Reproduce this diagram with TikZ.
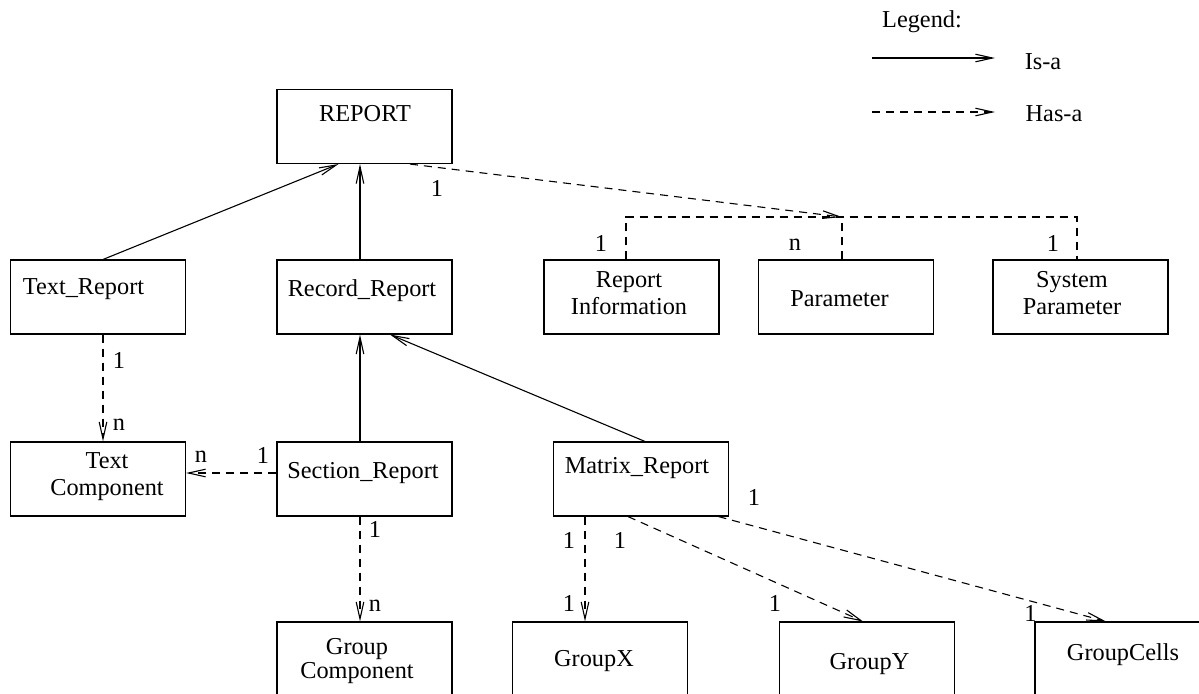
\documentclass[tikz,border=0pt]{standalone}
\usepackage{fontspec}
\setmainfont{Liberation Serif}
\usetikzlibrary{arrows.meta,calc}
\begin{document}
\begin{tikzpicture}[x=0.5pt,y=-0.5pt,
  every node/.style={font=\fontsize{12.15pt}{13.5pt}\selectfont},
  box/.style={draw, line width=0.55pt, minimum width=87.5pt, minimum height=37pt, inner sep=0pt},
  txt/.style={inner sep=0pt, anchor=base},
  mtxt/.style={inner sep=0pt, align=center},
  card/.style={inner sep=0pt},
  isa/.style={line width=0.55pt, -{Straight Barb[length=8.5pt,width=3.8pt]}},
  hasline/.style={line width=0.55pt, dash pattern=on 4pt off 3pt},
  hasa/.style={hasline, -{Straight Barb[length=8.5pt,width=3.8pt]}},
]
\useasboundingbox (0,0) rectangle (1199,693);
\clip (0,0) rectangle (1199,693);

% class boxes
\node[box] (report)     at (364.5,126.5) {};
\node[box] (textrep)    at (98,297) {};
\node[box] (recrep)     at (364.5,297) {};
\node[box] (repinfo)    at (631.5,297) {};
\node[box] (param)      at (846,297) {};
\node[box] (syspar)     at (1080.5,297) {};
\node[box] (textcomp)   at (98,479) {};
\node[box] (secrep)     at (364.5,479) {};
\node[box] (matrep)     at (640.75,479) {};
\node[box] (groupcomp)  at (364.5,659) {};
\node[box] (groupx)     at (599.75,659) {};
\node[box] (groupy)     at (866.75,659) {};
\node[box] (groupcells) at (1122.5,659) {};

% box captions
\node[txt] (report-t)     at (365,121) {REPORT};
\node[txt] (textrep-t)    at (83.5,294) {Text\_Report};
\node[txt] (recrep-t)     at (362,296) {Record\_Report};
\node[txt] (param-t)      at (839.5,306) {Parameter};
\node[txt] (secrep-t)     at (363,478) {Section\_Report};
\node[txt] (matrep-t)     at (637,473) {Matrix\_Report};
\node[txt] (groupx-t)     at (594,666) {GroupX};
\node[txt] (groupy-t)     at (869.5,669) {GroupY};
\node[txt] (groupcells-t) at (1123,660) {GroupCells};
\node[mtxt] (repinfo-t)   at (629,293) {Report\\Information};
\node[mtxt] (syspar-t)    at (1072,293) {System\\Parameter};
\node[mtxt] (textcomp-t)  at (107,477) {Text\\Component};
\node[mtxt, font=\fontsize{12.15pt}{12pt}\selectfont] (groupcomp-t) at (357,661.5) {Group\\Component};

% legend
\node[txt] (legend-t) at (922,27) {Legend:};
\coordinate (isa-a) at (872,58);
\coordinate (isa-b) at (995,58);
\draw[isa] (isa-a) -- (isa-b);
\node[txt] (isa-t) at (1043,69) {Is-a};
\coordinate (hasa-a) at (872,112);
\coordinate (hasa-b) at (995,112);
\draw[hasa] (hasa-a) -- (hasa-b);
\node[txt] (hasa-t) at (1054,121) {Has-a};

% is-a links
\draw[isa] ([xshift=2.5pt]textrep.north) -- ([xshift=-13pt]report.south);
\draw[isa] ([xshift=-2.25pt]recrep.north) -- ([xshift=-2.25pt]report.south);
\draw[isa] ([xshift=-2.25pt]secrep.north) -- ([xshift=-2.25pt]recrep.south);
\draw[isa] ([xshift=2.125pt]matrep.north) -- ([xshift=12.75pt]recrep.south);

% has-a links
\coordinate (hub) at (842,217);
\draw[hasa] ([xshift=22.75pt]report.south) -- (hub);
\draw[hasline] ([xshift=-2.75pt]repinfo.north) |- (hub) -| ([xshift=-1.75pt]syspar.north);
\draw[hasline] ([xshift=-2pt]param.north) -- (hub);
\draw[hasa] ([xshift=2.5pt]textrep.south) -- ([xshift=2.5pt]textcomp.north);
\draw[hasa] ([yshift=3pt]secrep.west) -- ([yshift=3pt]textcomp.east);
\draw[hasa] ([xshift=-2.25pt]secrep.south) -- ([xshift=-2.25pt]groupcomp.north);
\draw[hasa] ([xshift=-27.875pt]matrep.south) -- ([xshift=-7.375pt]groupx.north);
\draw[hasa] ([xshift=-6.375pt]matrep.south) -- ([xshift=-1.875pt]groupy.north);
\draw[hasa] ([xshift=38.875pt]matrep.south) -- ([xshift=-8.25pt]groupcells.north);

% cardinalities
\node[card] (c-report)    at (437,188) {1};
\node[card] (c-repinfo)   at (601,243) {1};
\node[card] (c-param)     at (795,245) {n};
\node[card] (c-syspar)    at (1053,243) {1};
\node[card] (c-textrep)   at (119,360) {1};
\node[card] (c-textcomp)  at (119,425) {n};
\node[card] (c-tc-sec)    at (201,457) {n};
\node[card] (c-sec-tc)    at (263,455) {1};
\node[card] (c-sec-gc)    at (375,529) {1};
\node[card] (c-groupcomp) at (375,606) {n};
\node[card] (c-mat-cells) at (754,497) {1};
\node[card] (c-mat-x)     at (569,540) {1};
\node[card] (c-mat-y)     at (620,540) {1};
\node[card] (c-groupx)    at (569,603) {1};
\node[card] (c-groupy)    at (775,603) {1};
\node[card] (c-groupcells) at (1030.5,613) {1};
\end{tikzpicture}
\end{document}
